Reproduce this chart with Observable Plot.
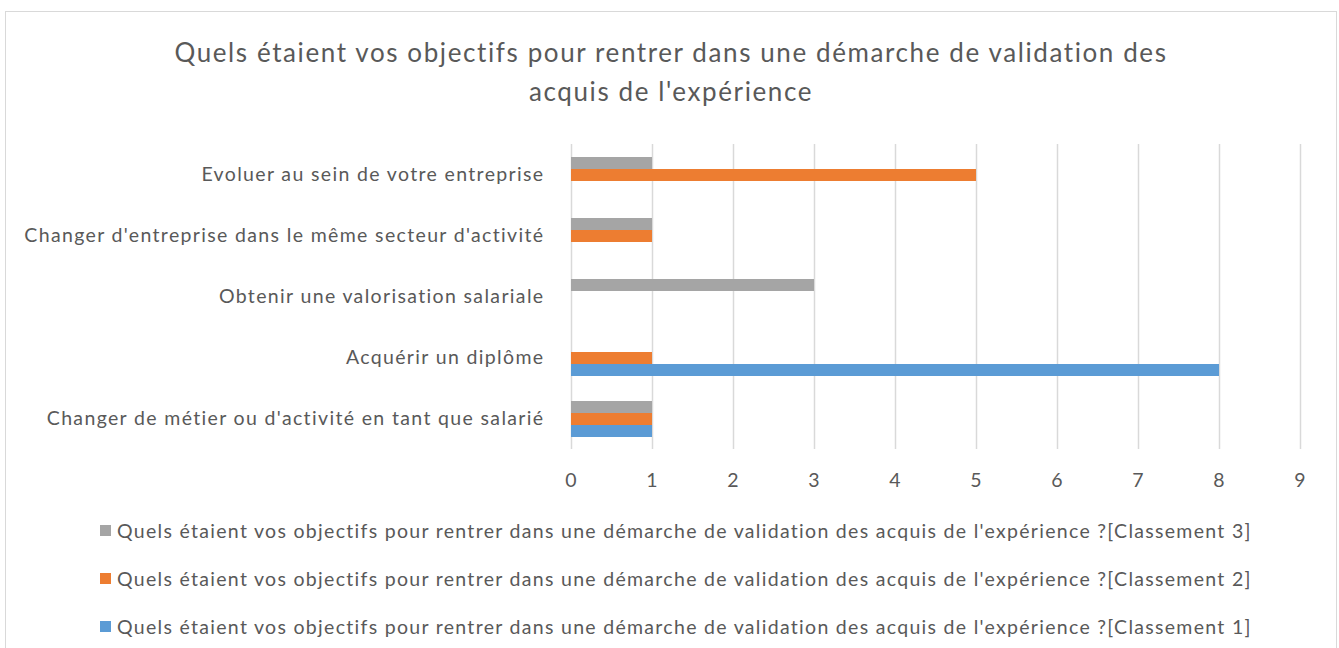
<!DOCTYPE html>
<html><head><meta charset="utf-8">
<script src="https://cdn.jsdelivr.net/npm/d3@7"></script>
<script src="https://cdn.jsdelivr.net/npm/@observablehq/plot@0.6"></script>
<style>
body{margin:0;background:#fff;font-family:Lato,sans-serif;color:#595959;width:1339px;height:648px;overflow:hidden;position:relative;}
#frame{position:absolute;left:5px;top:11px;width:1332px;height:660px;border:1px solid #D9D9D9;box-sizing:border-box;}
#title{position:absolute;left:0;top:33px;width:1342px;text-align:center;font-size:26px;line-height:39px;letter-spacing:1.6px;}
#chart{position:absolute;left:0;top:130px;}
#chart svg text{letter-spacing:1.35px;}
.lg{position:absolute;left:100px;height:20px;display:flex;align-items:center;font-size:19.5px;letter-spacing:1.3px;white-space:nowrap;}
.sw{width:11px;height:11px;margin-right:6px;flex:none;}
</style></head>
<body>
<div id="frame"></div>
<div id="title">Quels étaient vos objectifs pour rentrer dans une démarche de validation des<br>acquis de l'expérience</div>
<div id="chart"></div>
<div id="legend"></div>
<script>
const categories = [
  "Evoluer au sein de votre entreprise",
  "Changer d'entreprise dans le même secteur d'activité",
  "Obtenir une valorisation salariale",
  "Acquérir un diplôme",
  "Changer de métier ou d'activité en tant que salarié"
];
const seriesNames = [
  "Quels étaient vos objectifs pour rentrer dans une démarche de validation des acquis de l'expérience ?[Classement 3]",
  "Quels étaient vos objectifs pour rentrer dans une démarche de validation des acquis de l'expérience ?[Classement 2]",
  "Quels étaient vos objectifs pour rentrer dans une démarche de validation des acquis de l'expérience ?[Classement 1]"
];
const classement3 = [1, 1, 3, 0, 1];
const classement2 = [5, 1, 0, 1, 1];
const classement1 = [0, 0, 0, 8, 1];
const xTicks = [0, 1, 2, 3, 4, 5, 6, 7, 8, 9];
const colors = ["#A5A5A5", "#ED7D31", "#5B9BD5"];

const seriesValues = [classement3, classement2, classement1];
const data = [];
categories.forEach((c, i) => {
  seriesNames.forEach((s, j) => {
    data.push({category: c, series: s, value: seriesValues[j][i]});
  });
});

const chart = Plot.plot({
  width: 1339,
  height: 364,
  marginLeft: 571,
  marginRight: 39,
  marginTop: 13,
  marginBottom: 45,
  style: {fontFamily: "Lato, sans-serif", fontSize: "19.5px", color: "#595959", background: "transparent"},
  x: {domain: [0, 9], label: null},
  fy: {domain: categories, padding: 0, label: null, axis: null},
  y: {domain: seriesNames, axis: null, paddingInner: 0, paddingOuter: 0.95},
  color: {domain: seriesNames, range: colors},
  marks: [
    Plot.ruleX(xTicks, {stroke: "#D9D9D9", strokeWidth: 1.5}),
    Plot.barX(data, {x: "value", y: "series", fy: "category", fill: "series", insetTop: 0, insetBottom: 0}),
    Plot.axisX(xTicks, {tickSize: 0, tickPadding: 24, label: null, fontSize: 19.5}),
    Plot.axisFy({anchor: "left", tickSize: 0, tickPadding: 27, label: null, fontSize: 19.5})
  ]
});
document.getElementById("chart").appendChild(chart);

const legendTops = [520, 568, 616];
const lg = document.getElementById("legend");
seriesNames.forEach((s, i) => {
  const row = document.createElement("div");
  row.className = "lg";
  row.style.top = legendTops[i] + "px";
  const sw = document.createElement("span");
  sw.className = "sw";
  sw.style.background = colors[i];
  const t = document.createElement("span");
  t.textContent = s;
  row.appendChild(sw);
  row.appendChild(t);
  lg.appendChild(row);
});
</script>
</body></html>
